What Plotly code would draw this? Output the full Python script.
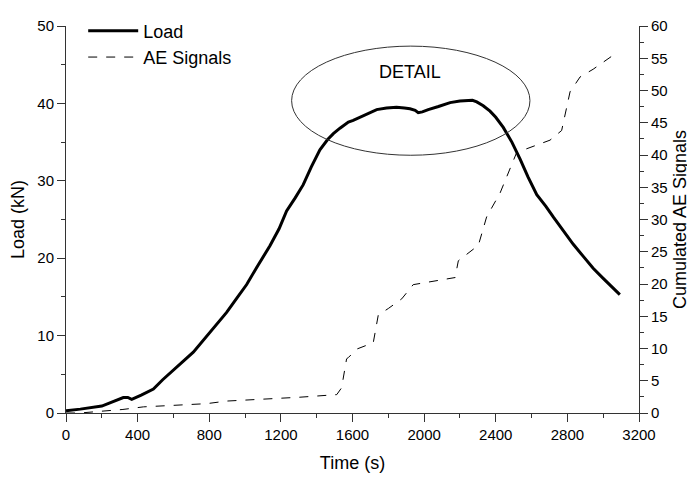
import plotly.graph_objects as go

# Load curve (time in s, load in kN)
load_t = [0, 80, 200, 260, 320, 345, 367, 420, 488, 540, 600, 660, 711, 760, 795, 850, 897, 950,
          1009, 1070, 1139, 1190, 1232, 1280, 1325, 1370, 1418, 1460, 1493, 1530, 1577, 1604, 1650,
          1700, 1735, 1790, 1846, 1890, 1921, 1950, 1967, 1990, 2023, 2080, 2145, 2200, 2238, 2270,
          2294, 2330, 2368, 2400, 2442, 2490, 2536, 2580, 2629, 2680, 2722, 2780, 2833, 2890, 2944,
          3000, 3050, 3093]
load_kn = [0.3, 0.5, 0.9, 1.4, 2.0, 2.0, 1.75, 2.3, 3.1, 4.3, 5.6, 6.8, 7.85, 9.2, 10.3, 11.7, 13.0, 14.7,
           16.6, 19.0, 21.6, 23.8, 26.1, 27.8, 29.5, 31.8, 34.0, 35.3, 36.1, 36.8, 37.6, 37.8, 38.3,
           38.9, 39.2, 39.4, 39.5, 39.4, 39.3, 39.1, 38.8, 38.9, 39.2, 39.6, 40.1, 40.3, 40.4, 40.4,
           40.2, 39.7, 39.0, 38.2, 36.9, 35.0, 32.8, 30.5, 28.2, 26.7, 25.3, 23.5, 21.8, 20.2, 18.7,
           17.4, 16.3, 15.3]

# Cumulated AE signals
ae_t = [0, 78, 318, 432, 786, 897, 1307, 1512, 1539, 1567, 1577, 1623, 1716, 1744, 1800, 1875,
        1939, 2089, 2173, 2191, 2238, 2303, 2349, 2424, 2517, 2600, 2703, 2768, 2815, 2871, 2944, 3047]
ae_n = [0, 0, 0.55, 0.95, 1.45, 1.85, 2.45, 2.85, 3.9, 8.4, 8.6, 9.9, 10.9, 15.2, 16.2, 17.7,
        19.9, 20.6, 21.0, 23.6, 24.6, 26.0, 30.4, 34.1, 40.4, 41.3, 42.3, 43.8, 49.8, 52.1, 53.3, 55.3]

FONT = "Liberation Sans, Arial, sans-serif"

fig = go.Figure()
fig.add_trace(go.Scatter(x=load_t, y=load_kn, name="Load", mode="lines",
                         line=dict(color="black", width=3)))
fig.add_trace(go.Scatter(x=ae_t, y=ae_n, name="AE Signals", mode="lines", yaxis="y2",
                         line=dict(color="black", width=1, dash="dash")))

fig.add_shape(type="circle", xref="x", yref="y", x0=1260, x1=2591, y0=33.3, y1=47.4,
              line=dict(color="#333", width=1))
fig.add_annotation(x=1921, y=44.0, xref="x", yref="y", text="DETAIL", showarrow=False,
                   font=dict(size=18, color="black", family=FONT))

axis_common = dict(showline=True, linecolor="#333", linewidth=1, showgrid=False, zeroline=False,
                   ticks="outside", tickcolor="#333", ticklen=8, automargin=False,
                   tickfont=dict(size=15, color="black", family=FONT))

# page body has an 8px margin, so the figure is a bit smaller than the window
fig.update_layout(
    width=687, height=470,
    margin=dict(l=58, r=56, t=4, b=65),
    plot_bgcolor="white", paper_bgcolor="white",
    font=dict(family=FONT, color="black"),
    showlegend=True,
    legend=dict(x=0.03, y=1.035, xanchor="left", yanchor="top", bgcolor="rgba(0,0,0,0)",
                font=dict(size=18, family=FONT), itemwidth=50, tracegroupgap=0),
    xaxis=dict(range=[0, 3200], dtick=400, tick0=0,
               minor=dict(dtick=200, ticks="outside", ticklen=4, tickcolor="#333"),
               title=dict(text="Time (s)", font=dict(size=18, family=FONT), standoff=14),
               **axis_common),
    yaxis=dict(range=[0, 50], dtick=10, tick0=0,
               minor=dict(dtick=5, ticks="outside", ticklen=4, tickcolor="#333"),
               title=dict(text="Load (kN)", font=dict(size=18, family=FONT), standoff=12),
               **axis_common),
    yaxis2=dict(range=[0, 60], dtick=5, tick0=0, overlaying="y", side="right",
                minor=dict(dtick=2.5, ticks="outside", ticklen=4, tickcolor="#333"),
                title=dict(text="Cumulated AE Signals", font=dict(size=18, family=FONT), standoff=6),
                **axis_common),
)

fig.write_html("out.html")
